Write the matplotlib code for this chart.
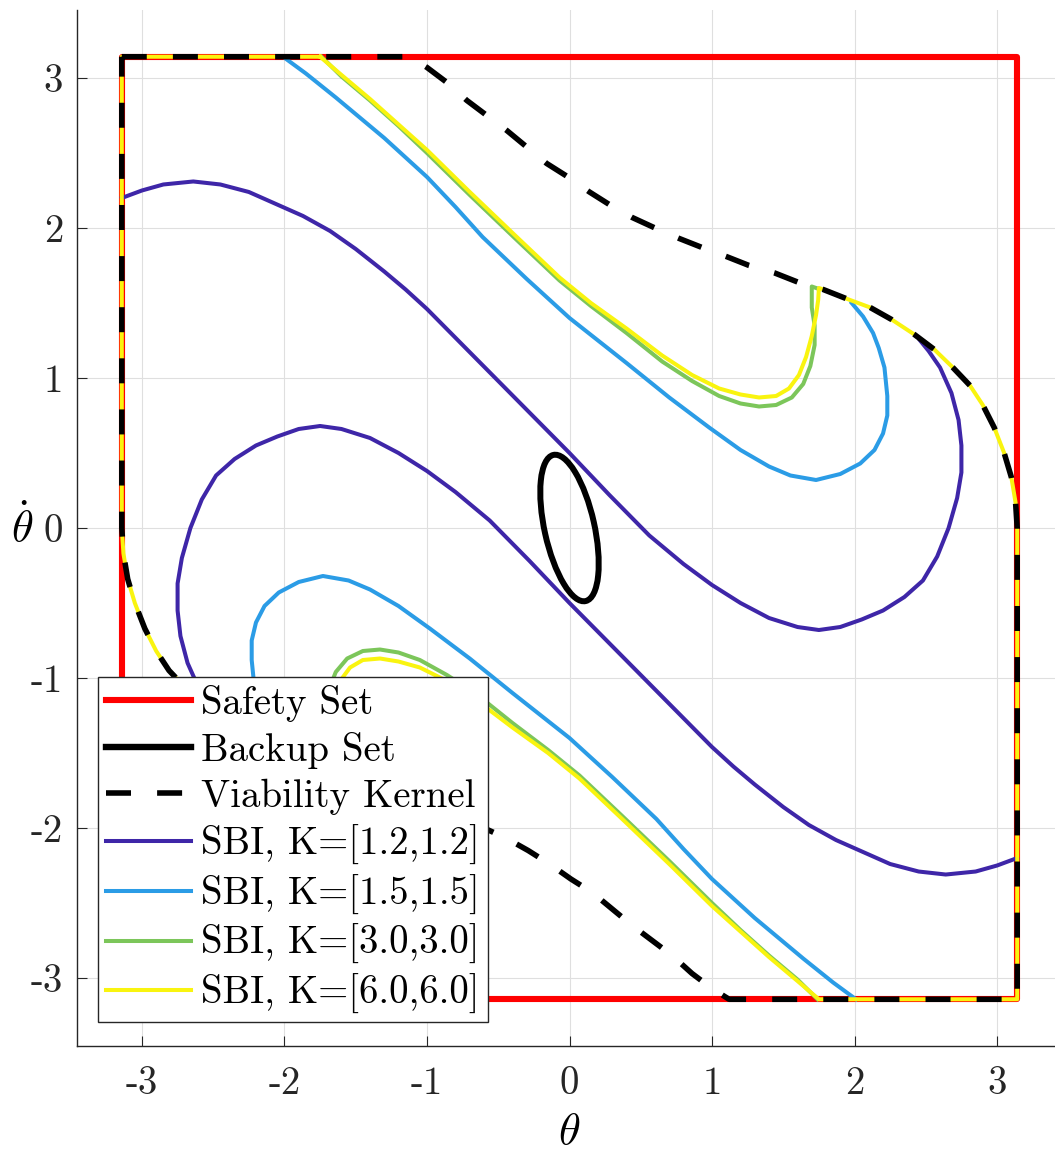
import numpy as np
import matplotlib
matplotlib.use("Agg")
import matplotlib.pyplot as plt
from matplotlib.lines import Line2D
from matplotlib.patches import Ellipse

plt.rcParams['font.family'] = ['cmr10', 'DejaVu Serif']
plt.rcParams['mathtext.fontset'] = 'cm'
plt.rcParams['axes.unicode_minus'] = False
plt.rcParams['axes.formatter.use_mathtext'] = True

PI = 3.1416

# ---------------- data ----------------
safety_x = [-PI, PI, PI, -PI, -PI]
safety_y = [-PI, -PI, PI, PI, -PI]

backup_center = (0.0, 0.0)
backup_width = 0.35
backup_height = 1.0
backup_angle = 13.2

# viability kernel: curved parts (upper-right and lower-left)
vk_up_x = [-1.12, -1.0, -0.86, -0.72, -0.58, -0.44, -0.30, -0.16, -0.01, 0.14, 0.29, 0.44, 0.60, 0.77, 0.93, 1.10, 1.26, 1.44, 1.60, 1.78, 1.94, 2.11, 2.26, 2.42, 2.56, 2.69, 2.81, 2.90, 2.98, 3.05, 3.10, 3.13, 3.1416]
vk_up_y = [3.1416, 3.07, 2.97, 2.85, 2.75, 2.65, 2.54, 2.43, 2.34, 2.24, 2.15, 2.07, 2.00, 1.93, 1.87, 1.81, 1.75, 1.70, 1.64, 1.59, 1.53, 1.47, 1.39, 1.29, 1.19, 1.07, 0.95, 0.82, 0.67, 0.50, 0.34, 0.17, 0.0]
vk_lo_x = [1.12, 1.0, 0.86, 0.72, 0.58, 0.44, 0.30, 0.16, 0.01, -0.14, -0.29, -0.44, -0.60, -0.77, -0.93, -1.10, -1.26, -1.44, -1.60, -1.78, -1.94, -2.11, -2.26, -2.42, -2.56, -2.69, -2.81, -2.90, -2.98, -3.05, -3.10, -3.13, -3.1416]
vk_lo_y = [-3.1416, -3.07, -2.97, -2.85, -2.75, -2.65, -2.54, -2.43, -2.34, -2.24, -2.15, -2.07, -2.00, -1.93, -1.87, -1.81, -1.75, -1.70, -1.64, -1.59, -1.53, -1.47, -1.39, -1.29, -1.19, -1.07, -0.95, -0.82, -0.67, -0.50, -0.34, -0.17, 0.0]

# SBI K=[1.2,1.2]
k12_up_x = [-3.1416, -3.0, -2.85, -2.64, -2.45, -2.25, -2.06, -1.87, -1.68, -1.5, -1.3, -1.15, -1.0, -0.75, -0.5, -0.25, 0.0, 0.28, 0.56, 0.8, 1.0, 1.2, 1.4, 1.6, 1.75, 1.9, 2.05, 2.2, 2.35, 2.48, 2.58, 2.66, 2.72, 2.75, 2.75, 2.73, 2.68, 2.6, 2.52, 2.46]
k12_up_y = [2.20, 2.25, 2.29, 2.31, 2.29, 2.24, 2.16, 2.08, 1.98, 1.86, 1.71, 1.59, 1.46, 1.22, 0.98, 0.74, 0.50, 0.22, -0.05, -0.24, -0.38, -0.50, -0.60, -0.66, -0.68, -0.66, -0.61, -0.55, -0.46, -0.35, -0.19, 0.0, 0.2, 0.37, 0.55, 0.72, 0.9, 1.07, 1.18, 1.25]
k12_lo_x = [3.1416, 3.0, 2.85, 2.64, 2.45, 2.25, 2.06, 1.87, 1.68, 1.5, 1.3, 1.15, 1.0, 0.75, 0.5, 0.25, 0.0, -0.28, -0.56, -0.8, -1.0, -1.2, -1.4, -1.6, -1.75, -1.9, -2.05, -2.2, -2.35, -2.48, -2.58, -2.66, -2.72, -2.75, -2.75, -2.73, -2.68, -2.6, -2.52, -2.46]
k12_lo_y = [-2.20, -2.25, -2.29, -2.31, -2.29, -2.24, -2.16, -2.08, -1.98, -1.86, -1.71, -1.59, -1.46, -1.22, -0.98, -0.74, -0.50, -0.22, 0.05, 0.24, 0.38, 0.50, 0.60, 0.66, 0.68, 0.66, 0.61, 0.55, 0.46, 0.35, 0.19, 0.0, -0.2, -0.37, -0.55, -0.72, -0.9, -1.07, -1.18, -1.25]

# SBI K=[1.5,1.5]
k15_up_x = [-2.01, -1.85, -1.64, -1.3, -1.0, -0.8, -0.61, -0.3, 0.0, 0.4, 0.7, 0.98, 1.2, 1.4, 1.55, 1.73, 1.9, 2.04, 2.14, 2.2, 2.23, 2.23, 2.21, 2.17, 2.13, 2.06, 1.98]
k15_up_y = [3.1416, 3.03, 2.87, 2.60, 2.34, 2.14, 1.94, 1.66, 1.40, 1.10, 0.87, 0.67, 0.52, 0.41, 0.35, 0.32, 0.36, 0.43, 0.52, 0.63, 0.75, 0.88, 1.07, 1.20, 1.30, 1.41, 1.50]
k15_lo_x = [2.01, 1.85, 1.64, 1.3, 1.0, 0.8, 0.61, 0.3, 0.0, -0.4, -0.7, -0.98, -1.2, -1.4, -1.55, -1.73, -1.9, -2.04, -2.14, -2.2, -2.23, -2.23, -2.21, -2.17, -2.13, -2.06, -1.98]
k15_lo_y = [-3.1416, -3.03, -2.87, -2.60, -2.34, -2.14, -1.94, -1.66, -1.40, -1.10, -0.87, -0.67, -0.52, -0.41, -0.35, -0.32, -0.36, -0.43, -0.52, -0.63, -0.75, -0.88, -1.07, -1.20, -1.30, -1.41, -1.50]

# SBI K=[3.0,3.0]
k30_up_x = [-1.74, -1.6, -1.40, -1.2, -1.0, -0.7, -0.37, -0.07, 0.15, 0.4, 0.65, 0.86, 1.05, 1.2, 1.33, 1.45, 1.56, 1.64, 1.69, 1.72, 1.72, 1.70, 1.70, 1.70, 1.73]
k30_up_y = [3.1416, 3.01, 2.85, 2.68, 2.50, 2.22, 1.92, 1.65, 1.48, 1.30, 1.11, 0.98, 0.88, 0.83, 0.81, 0.82, 0.87, 0.96, 1.08, 1.22, 1.35, 1.47, 1.56, 1.61, 1.60]
k30_lo_x = [1.74, 1.6, 1.40, 1.2, 1.0, 0.7, 0.37, 0.07, -0.15, -0.4, -0.65, -0.86, -1.05, -1.2, -1.33, -1.45, -1.56, -1.64, -1.69, -1.72, -1.72, -1.70, -1.70, -1.70, -1.73]
k30_lo_y = [-3.1416, -3.01, -2.85, -2.68, -2.50, -2.22, -1.92, -1.65, -1.48, -1.30, -1.11, -0.98, -0.88, -0.83, -0.81, -0.82, -0.87, -0.96, -1.08, -1.22, -1.35, -1.47, -1.56, -1.61, -1.60]

# SBI K=[6.0,6.0]
k60_up_x = [-1.75, -1.6, -1.40, -1.2, -1.0, -0.7, -0.37, -0.07, 0.15, 0.4, 0.65, 0.86, 1.05, 1.2, 1.33, 1.45, 1.54, 1.61, 1.66, 1.70, 1.73, 1.745, 1.75]
k60_up_y = [3.1416, 3.02, 2.86, 2.69, 2.52, 2.24, 1.94, 1.67, 1.50, 1.33, 1.15, 1.02, 0.93, 0.89, 0.87, 0.88, 0.93, 1.02, 1.14, 1.28, 1.42, 1.52, 1.60]
k60_lo_x = [1.75, 1.6, 1.40, 1.2, 1.0, 0.7, 0.37, 0.07, -0.15, -0.4, -0.65, -0.86, -1.05, -1.2, -1.33, -1.45, -1.54, -1.61, -1.66, -1.70, -1.73, -1.745, -1.75]
k60_lo_y = [-3.1416, -3.02, -2.86, -2.69, -2.52, -2.24, -1.94, -1.67, -1.50, -1.33, -1.15, -1.02, -0.93, -0.89, -0.87, -0.88, -0.93, -1.02, -1.14, -1.28, -1.42, -1.52, -1.60]

labels = ["Safety Set", "Backup Set", "Viability Kernel",
          "SBI, K=[1.2,1.2]", "SBI, K=[1.5,1.5]", "SBI, K=[3.0,3.0]", "SBI, K=[6.0,6.0]"]
sbi_colors = ["#3E26A8", "#2B9CE6", "#7CC65A", "#F9F40F"]

ticks = [-3, -2, -1, 0, 1, 2, 3]
tick_labels = ["-3", "-2", "-1", "0", "1", "2", "3"]
LIM = 3.4558

# ---------------- figure ----------------
W, H = 1055, 1153
fig = plt.figure(figsize=(W / 100, H / 100), dpi=100)
ax_left, ax_right_px, ax_top, ax_bot = 77, 1062, 9.6, 1046.4
ax = fig.add_axes([ax_left / W, (H - ax_bot) / H, (ax_right_px - ax_left) / W, (ax_bot - ax_top) / H])

ax.set_xlim(-LIM, LIM)
ax.set_ylim(-LIM, LIM)

ax.grid(True, color="#dfdfdf", lw=0.8, zorder=0)
ax.set_axisbelow(True)

# safety set
l_safe, = ax.plot(safety_x, safety_y, color="red", lw=4.4, zorder=2, solid_joinstyle="round")

# SBI curves (branches)
sbi_sets = [(k12_up_x, k12_up_y, k12_lo_x, k12_lo_y),
            (k15_up_x, k15_up_y, k15_lo_x, k15_lo_y),
            (k30_up_x, k30_up_y, k30_lo_x, k30_lo_y)]
sbi_handles = []
for i, (ux, uy, lx, ly) in enumerate(sbi_sets):
    h, = ax.plot(ux, uy, color=sbi_colors[i], lw=2.9, zorder=3 + i, solid_joinstyle="round")
    ax.plot(lx, ly, color=sbi_colors[i], lw=2.9, zorder=3 + i, solid_joinstyle="round")
    sbi_handles.append(h)

# yellow: full boundary (branch + kernel arcs + safety edges)
vk_up_x_a = np.array(vk_up_x); vk_up_y_a = np.array(vk_up_y)
vk_lo_x_a = np.array(vk_lo_x); vk_lo_y_a = np.array(vk_lo_y)
m_up = vk_up_x_a > k60_up_x[-1] + 0.01
m_lo = vk_lo_x_a < k60_lo_x[-1] - 0.01
yx = np.concatenate([k60_up_x, vk_up_x_a[m_up], [PI], k60_lo_x, vk_lo_x_a[m_lo], [-PI], [k60_up_x[0]]])
yy = np.concatenate([k60_up_y, vk_up_y_a[m_up], [-PI], k60_lo_y, vk_lo_y_a[m_lo], [PI], [k60_up_y[0]]])
h60, = ax.plot(yx, yy, color=sbi_colors[3], lw=2.9, zorder=6, solid_joinstyle="round")
sbi_handles.append(h60)

# viability kernel
vkx = np.concatenate([[-PI], vk_up_x, [PI], vk_lo_x, [-PI]])
vky = np.concatenate([[PI], vk_up_y, [-PI], vk_lo_y, [PI]])
l_vk, = ax.plot(vkx, vky, color="black", lw=4.0, dashes=(4.5, 4.7), zorder=7,
                dash_capstyle="butt")

# backup set
ell = Ellipse(backup_center, backup_width, backup_height, angle=backup_angle,
              fill=False, ec="black", lw=4.3, zorder=8)
ax.add_patch(ell)
l_bk = Line2D([], [], color="black", lw=4.6)

# axes style
for s in ["top", "right"]:
    ax.spines[s].set_visible(False)
for s in ["left", "bottom"]:
    ax.spines[s].set_color("#262626")
    ax.spines[s].set_linewidth(1.0)

ax.set_xticks(ticks)
ax.set_xticklabels(tick_labels)
ax.set_yticks(ticks)
ax.set_yticklabels(tick_labels)
ax.tick_params(direction="in", length=7, width=0.8, colors="#262626", labelsize=28)
ax.tick_params(axis="x", pad=14)
ax.tick_params(axis="y", pad=10)
for t in ax.get_xticklabels() + ax.get_yticklabels():
    t.set_color("#262626")

ax.set_xlabel(r"$\theta$", fontsize=32)
ax.xaxis.set_label_coords(0.5, -0.0835)
ax.xaxis.label.set_va("center")
ax.set_ylabel(r"$\dot{\theta}$", fontsize=32, rotation=0)
ax.yaxis.set_label_coords((22 - ax_left) / (ax_right_px - ax_left), 0.5)
ax.yaxis.label.set_va("center")
ax.yaxis.label.set_ha("center")

handles = [l_safe, l_bk, l_vk] + sbi_handles
leg = ax.legend(handles, labels, loc="lower left",
                bbox_to_anchor=((98 - ax_left) / (ax_right_px - ax_left), (ax_bot - 1022) / (ax_bot - ax_top)),
                borderaxespad=0, fontsize=28, frameon=True, fancybox=False,
                edgecolor="#262626", framealpha=1, handlelength=2.2,
                handletextpad=0.25, labelspacing=0.25, borderpad=0.2)
leg.get_frame().set_linewidth(1.0)
leg.set_zorder(20)

fig.savefig("out.png", dpi=100)
